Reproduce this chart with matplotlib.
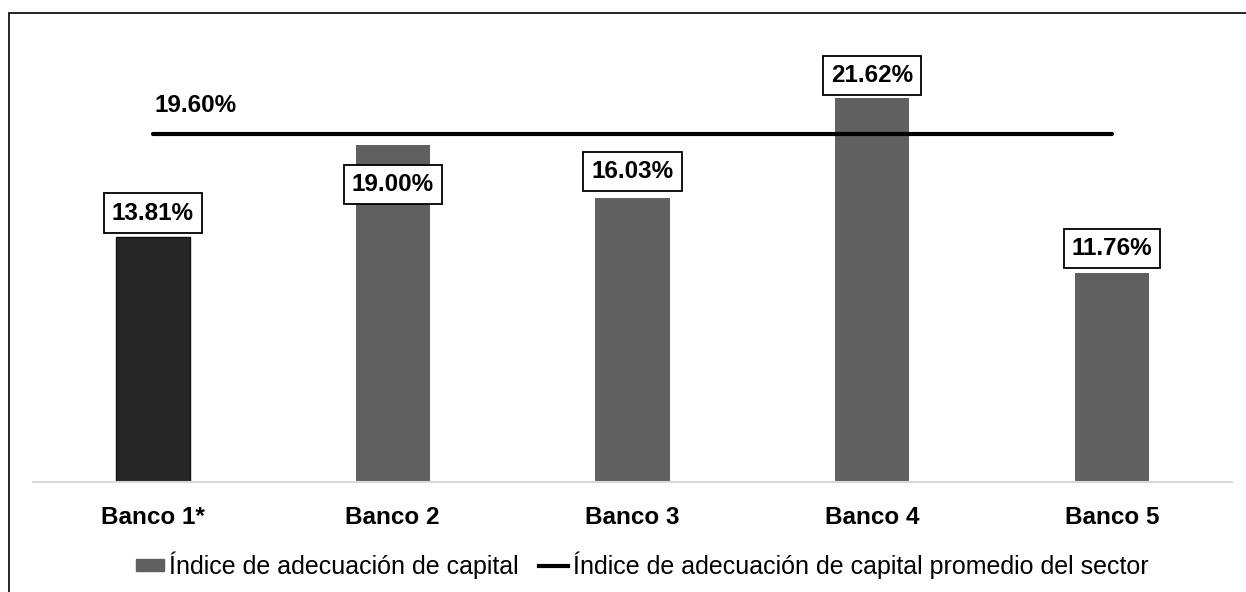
import matplotlib.pyplot as plt
from matplotlib.lines import Line2D
from matplotlib.patches import Patch, Rectangle

plt.rcParams['font.family'] = ['Liberation Sans', 'DejaVu Sans']

bancos = ["Banco 1*", "Banco 2", "Banco 3", "Banco 4", "Banco 5"]
indice = [13.81, 19.00, 16.03, 21.62, 11.76]
promedio_sector = 19.60
bar_colors = ["#262626", "#606060", "#606060", "#606060", "#606060"]
label_dy = [24, -40, 26, 23, 25]  # label offset from bar top, pixels

fig = plt.figure(figsize=(12.46, 5.92), dpi=100)
ax = fig.add_axes([33 / 1246, 110 / 592, 1199 / 1246, 443.5 / 592])

x = range(len(bancos))
bars = ax.bar(x, indice, width=0.31, color=bar_colors, zorder=2)
bars[0].set_edgecolor("#111111")
bars[0].set_linewidth(1)

ax.plot([0, len(bancos) - 1], [promedio_sector] * 2, color="black", lw=3,
        solid_capstyle="round", zorder=3)
ax.annotate(f"{promedio_sector:.2f}%", (0, promedio_sector), xytext=(2, 29),
            textcoords="offset pixels", ha="left", va="center",
            fontsize=17.5, fontweight="bold")

for i, v in enumerate(indice):
    ax.annotate(f"{v:.2f}%", (i, v), xytext=(0, label_dy[i]), textcoords="offset pixels",
                ha="center", va="center", fontsize=17.5, fontweight="bold", zorder=4,
                bbox=dict(boxstyle="square,pad=0.33", fc="white", ec="black", lw=1.3))

ax.set_xlim(-0.5, len(bancos) - 0.5)
ax.set_ylim(0, 25)
ax.set_xticks(list(x))
ax.set_xticklabels(bancos, fontsize=17.5, fontweight="bold")
ax.tick_params(axis="x", length=0, pad=17)
ax.set_yticks([])
for s in ["top", "right", "left"]:
    ax.spines[s].set_visible(False)
ax.spines["bottom"].set_color("#d9d9d9")
ax.spines["bottom"].set_linewidth(1.5)

handles = [Patch(color="#606060", label="Índice de adecuación de capital"),
           Line2D([], [], color="black", lw=3, label="Índice de adecuación de capital promedio del sector")]
fig.legend(handles=handles, loc="center", bbox_to_anchor=(642 / 1246, (592 - 565) / 592), ncol=2,
           frameon=False, fontsize=18, handlelength=1.15, handleheight=0.35, handletextpad=0.2,
           columnspacing=0.8)

fig.patches.append(Rectangle((9 / 1246, -0.1), 1.2, (592 - 13) / 592 + 0.1, transform=fig.transFigure,
                             fill=False, ec="black", lw=1.2))

fig.savefig("out.png", dpi=100)
